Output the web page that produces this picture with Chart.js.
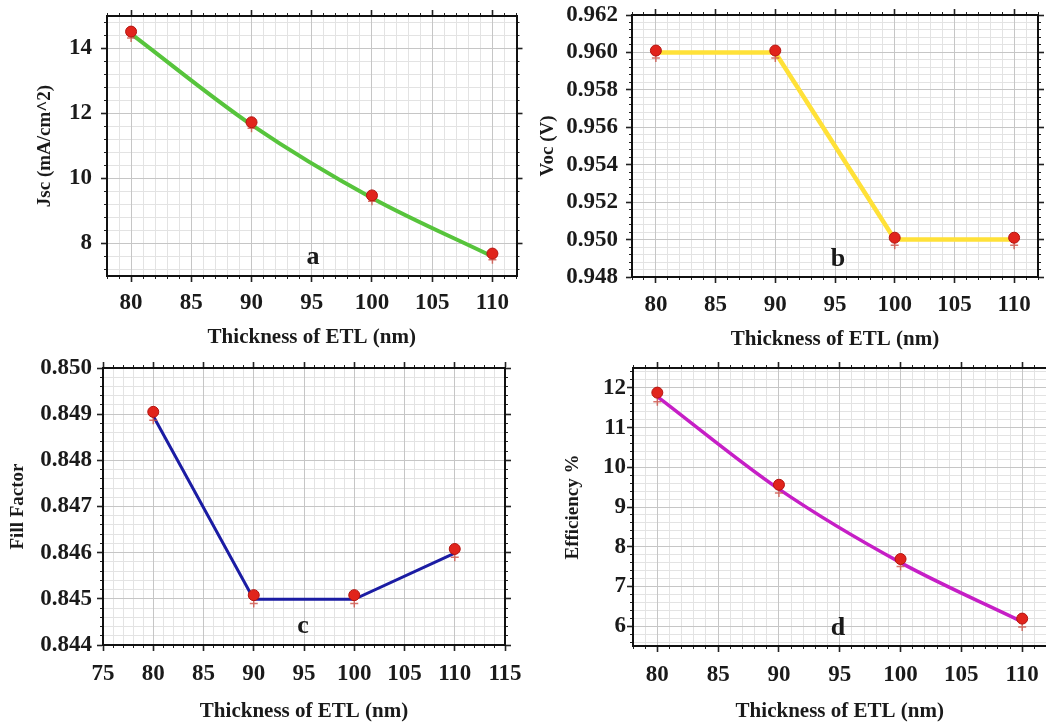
<!DOCTYPE html>
<html>
<head>
<meta charset="utf-8">
<script src="https://cdn.jsdelivr.net/npm/chart.js@4.4.1/dist/chart.umd.min.js"></script>
<style>
  html, body { margin: 0; padding: 0; background: #fff; width: 1046px; height: 723px; overflow: hidden; }
  canvas.panel { position: absolute; }
  .tag { position: absolute; transform: translate(-50%, -50%); font: bold 26px "Liberation Serif", serif; color: #1a1a1a; }
</style>
</head>
<body>
<canvas id="chart-a" class="panel"></canvas>
<canvas id="chart-b" class="panel"></canvas>
<canvas id="chart-c" class="panel"></canvas>
<canvas id="chart-d" class="panel"></canvas>
<div class="tag" style="left:313px;top:256px">a</div>
<div class="tag" style="left:838px;top:258px">b</div>
<div class="tag" style="left:303px;top:625px">c</div>
<div class="tag" style="left:838px;top:627px">d</div>

<script>
const SERIF = '"Liberation Serif", "Times New Roman", serif';
const INK = '#1a1a1a';
const GRID_MAJOR = '#c6c6c6';
const GRID_MINOR = '#e3e3e3';
const DOT_RED = '#e1241c';
const PLUS_RED = 'rgba(205, 80, 70, 0.8)';

// ETL thickness (nm)
const thickness = [80, 90, 100, 110];

// a) short-circuit current density
const jscDots = [14.52, 11.73, 9.48, 7.69];
const jscLine = [14.45, 11.65, 9.40, 7.60];
const jscPlus = [14.32, 11.55, 9.30, 7.50];

// b) open-circuit voltage
const vocDots = [0.9601, 0.9601, 0.9501, 0.9501];
const vocLine = [0.9600, 0.9600, 0.9500, 0.9500];
const vocPlus = [0.9597, 0.9597, 0.9497, 0.9497];

// c) fill factor
const ffDots = [0.84905, 0.84508, 0.84508, 0.84608];
const ffLine = [0.84896, 0.84499, 0.84499, 0.84599];
const ffPlus = [0.84887, 0.84490, 0.84490, 0.84590];

// d) efficiency
const effDots = [11.88, 9.56, 7.69, 6.19];
const effLine = [11.78, 9.45, 7.60, 6.11];
const effPlus = [11.65, 9.35, 7.50, 5.98];

// tick labels
const xTicks = [80, 85, 90, 95, 100, 105, 110];
const xTicksWide = [75, 80, 85, 90, 95, 100, 105, 110, 115];
const jscTicks = [8, 10, 12, 14];
const vocTicks = [0.948, 0.950, 0.952, 0.954, 0.956, 0.958, 0.960, 0.962];
const ffTicks = [0.844, 0.845, 0.846, 0.847, 0.848, 0.849, 0.850];
const effTicks = [6, 7, 8, 9, 10, 11, 12];

const panels = [
  {
    id: 'chart-a', yTitle: 'Jsc (mA/cm^2)', dots: jscDots, line: jscLine, plus: jscPlus,
    xTicks: xTicks, yTicks: jscTicks, xRange: [78, 112], yRange: [7, 15], xMinor: 1, yMinor: 0.4, decimals: 0,
    color: '#57c43c', lineWidth: 4, curved: true,
    box: { left: 0, top: 0, w: 523, h: 355 }, area: { l: 107, t: 16, r: 519, b: 276 },
    yLabelRight: 92, xLabelMid: 303, yTitleMid: 45, xTitleMid: 338,
  },
  {
    id: 'chart-b', yTitle: 'Voc (V)', dots: vocDots, line: vocLine, plus: vocPlus,
    xTicks: xTicks, yTicks: vocTicks, xRange: [78, 112], yRange: [0.948, 0.962], xMinor: 1, yMinor: 0.0004, decimals: 3,
    color: '#ffe138', lineWidth: 4.5, curved: false,
    box: { left: 523, top: 0, w: 523, h: 355 }, area: { l: 632, t: 15, r: 1038, b: 277 },
    yLabelRight: 618, xLabelMid: 305, yTitleMid: 548, xTitleMid: 340,
  },
  {
    id: 'chart-c', yTitle: 'Fill Factor', dots: ffDots, line: ffLine, plus: ffPlus,
    xTicks: xTicksWide, yTicks: ffTicks, xRange: [75, 115], yRange: [0.844, 0.850], xMinor: 1, yMinor: 0.0002, decimals: 3,
    color: '#1b1ca3', lineWidth: 3, curved: false,
    box: { left: 0, top: 355, w: 523, h: 368 }, area: { l: 103, t: 368, r: 505, b: 645 },
    yLabelRight: 92, xLabelMid: 674, yTitleMid: 18, xTitleMid: 712,
  },
  {
    id: 'chart-d', yTitle: 'Efficiency %', dots: effDots, line: effLine, plus: effPlus,
    xTicks: xTicks, yTicks: effTicks, xRange: [78, 112], yRange: [5.5, 12.5], xMinor: 1, yMinor: 0.2, decimals: 0,
    color: '#c61fc6', lineWidth: 3.5, curved: true,
    box: { left: 523, top: 355, w: 530, h: 368 }, area: { l: 633, t: 368, r: 1047, b: 646 },
    yLabelRight: 626, xLabelMid: 675, yTitleMid: 573, xTitleMid: 712,
  },
];

const TICK_SIZE = 23;
const X_TITLE_SIZE = 21;
const Y_TITLE_SIZE = 19;
const MAJOR_TICK = 6;
const MINOR_TICK = 3;

function pts(ys) {
  return thickness.map((x, i) => ({ x, y: ys[i] }));
}

// minor grid positions, anchored on the first labelled tick
function minorSteps(anchor, range, step) {
  const out = [];
  for (let k = 0; anchor - k * step >= range[0] - step * 1e-3; k++) out.unshift(anchor - k * step);
  for (let k = 1; anchor + k * step <= range[1] + step * 1e-3; k++) out.push(anchor + k * step);
  return out.map(v => ({ value: +v.toFixed(6) }));
}

// pin the axis box size and drop the extra room chart.js keeps for edge labels
function fixSize(size) {
  return s => {
    if (s.isHorizontal()) s.height = size; else s.width = size;
    s.paddingTop = s.paddingBottom = s.paddingLeft = s.paddingRight = 0;
  };
}

// one linear axis; mirror and minor axes carry no labels
function axis(position, range, ticks, o) {
  return {
    type: 'linear', position, min: range[0], max: range[1], weight: o.weight || 0,
    afterBuildTicks: s => { s.ticks = ticks.map(t => ({ value: t.value })); },
    afterFit: fixSize(o.size || 0),
    grid: {
      display: true,
      drawOnChartArea: !!o.gridColor,
      color: o.gridColor || GRID_MAJOR,
      z: o.gridZ || -1,
      lineWidth: 1,
      drawTicks: true,
      tickLength: o.tickLength,
      tickColor: '#222',
      tickWidth: o.tickLength === MAJOR_TICK ? 1.6 : 1,
    },
    border: { display: !!o.border, color: '#111', width: 2 },
    ticks: o.labels ? {
      display: true, autoSkip: false, maxRotation: 0, padding: o.pad, color: INK,
      font: { family: SERIF, weight: 'bold', size: TICK_SIZE },
      callback: v => v.toFixed(o.decimals),
    } : { display: false },
    title: o.title ? {
      display: true, text: o.title, color: INK,
      font: { family: SERIF, weight: 'bold', size: o.titleSize },
      padding: o.titlePad,
    } : { display: false },
  };
}

function buildPanel(p) {
  const cv = document.getElementById(p.id);
  cv.width = p.box.w;
  cv.height = p.box.h;
  cv.style.left = p.box.left + 'px';
  cv.style.top = p.box.top + 'px';

  const yAxisW = p.area.l - p.box.left;
  const xAxisH = p.box.top + p.box.h - p.area.b;
  const yPad = Math.max(0, p.area.l - p.yLabelRight - MAJOR_TICK);
  const xPad = Math.max(0, p.xLabelMid - p.area.b - MAJOR_TICK - TICK_SIZE * 1.2 / 2);
  const yTitlePad = { top: p.yTitleMid - p.box.left - Y_TITLE_SIZE * 1.2 / 2, bottom: 0 };
  const xTitlePad = { top: 0, bottom: p.box.top + p.box.h - p.xTitleMid - X_TITLE_SIZE * 1.2 / 2 };

  const xMajor = p.xTicks.map(v => ({ value: v }));
  const yMajor = p.yTicks.map(v => ({ value: v }));
  const xMin = minorSteps(p.xTicks[0], p.xRange, p.xMinor);
  const yMin = minorSteps(p.yTicks[0], p.yRange, p.yMinor);

  new Chart(cv, {
    type: 'scatter',
    data: {
      datasets: [
        {
          data: pts(p.dots), showLine: false, order: 0,
          pointRadius: 5.5, pointBackgroundColor: DOT_RED, pointBorderColor: '#b3140f', pointBorderWidth: 1,
        },
        {
          data: pts(p.plus), showLine: false, order: 1,
          pointStyle: 'cross', pointRadius: 4, pointBorderColor: PLUS_RED, pointBorderWidth: 1.5,
        },
        {
          data: pts(p.line), showLine: true, order: 2, pointRadius: 0,
          borderColor: p.color, borderWidth: p.lineWidth,
          cubicInterpolationMode: p.curved ? 'monotone' : 'default',
        },
      ],
    },
    options: {
      responsive: false,
      animation: false,
      events: [],
      layout: { padding: { left: 0, top: p.area.t - p.box.top, right: p.box.left + p.box.w - p.area.r, bottom: 0 } },
      plugins: { legend: { display: false }, tooltip: { enabled: false } },
      scales: {
        x: axis('bottom', p.xRange, xMajor, {
          weight: 1, size: xAxisH, tickLength: MAJOR_TICK, gridColor: GRID_MAJOR, border: true,
          labels: true, pad: xPad, decimals: 0,
          title: 'Thickness of ETL (nm)', titleSize: X_TITLE_SIZE, titlePad: xTitlePad,
        }),
        xMinor: axis('bottom', p.xRange, xMin, { tickLength: MINOR_TICK, gridColor: GRID_MINOR, gridZ: -2 }),
        y: axis('left', p.yRange, yMajor, {
          weight: 1, size: yAxisW, tickLength: MAJOR_TICK, gridColor: GRID_MAJOR, border: true,
          labels: true, pad: yPad, decimals: p.decimals,
          title: p.yTitle, titleSize: Y_TITLE_SIZE, titlePad: yTitlePad,
        }),
        yMinor: axis('left', p.yRange, yMin, { tickLength: MINOR_TICK, gridColor: GRID_MINOR, gridZ: -2 }),
        xTop: axis('top', p.xRange, xMajor, { tickLength: MAJOR_TICK, border: true }),
        xTopMinor: axis('top', p.xRange, xMin, { tickLength: MINOR_TICK }),
        yRight: axis('right', p.yRange, yMajor, { tickLength: MAJOR_TICK, border: true }),
        yRightMinor: axis('right', p.yRange, yMin, { tickLength: MINOR_TICK }),
      },
    },
  });
}

panels.forEach(buildPanel);
</script>
</body>
</html>
